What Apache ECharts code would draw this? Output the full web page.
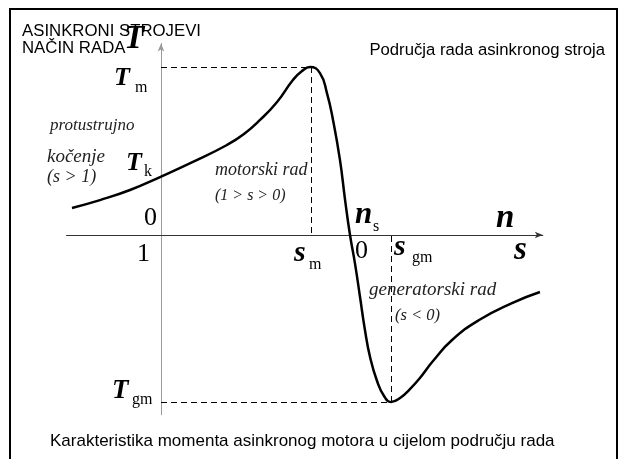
<!DOCTYPE html>
<html>
<head>
<meta charset="utf-8">
<script src="https://cdn.jsdelivr.net/npm/echarts@6/dist/echarts.min.js"></script>
<style>
    html, body { margin: 0; padding: 0; background: #fff; }
    #chart { width: 624px; height: 459px; }
</style>
</head>
<body>
<div id="chart"></div>
<script>
// brzina n/ns (0 = mirovanje, 1 = sinkrona brzina) i moment T/Tm
const speedN = [-0.471, -0.323, -0.164, -0.005, 0.169, 0.349, 0.439, 0.524, 0.614, 0.698, 0.746,
    0.788, 0.841, 0.878, 0.910, 0.947, 0.974, 1.000, 1.026, 1.053, 1.079,
    1.106, 1.143, 1.180, 1.217, 1.265, 1.317, 1.370, 1.439, 1.540, 1.683, 1.857, 2.005];
const torqueT = [0.161, 0.208, 0.268, 0.345, 0.435, 0.536, 0.601, 0.685, 0.792, 0.923, 0.976,
    1.000, 0.964, 0.845, 0.685, 0.446, 0.208, 0.000, -0.167, -0.369, -0.565,
    -0.726, -0.869, -0.958, -0.994, -0.970, -0.917, -0.851, -0.750, -0.625, -0.506, -0.405, -0.339];

// prekretni moment u motorskom i generatorskom radu
const motorPeak = [0.794, 1.0];
const generatorPeak = [1.217, -0.994];

const SERIF = '"Liberation Serif", "DejaVu Serif", serif';
const SANS = '"Liberation Sans", Arial, sans-serif';

// tekst na zadanoj poziciji
var txt = (x, y, text, size, opts = {}) => {
    return {
        type: 'text',
        x: x,
        y: y,
        silent: true,
        z: 10,
        style: {
            text: text,
            fill: opts.color || '#000',
            font: (opts.style || 'normal') + ' ' + (opts.weight || 'normal') + ' ' + size + 'px ' + (opts.family || SERIF),
            align: opts.align || 'left',
            verticalAlign: 'middle'
        }
    };
};

const symbol = { style: 'italic', weight: 'bold' };
const note = { style: 'italic', color: '#222' };
const sans = { family: SANS };

var dashed = (a, b) => [{ coord: a }, { coord: b }];

var chart = echarts.init(document.getElementById('chart'));

chart.setOption({
    animation: false,
    grid: { left: 66.5, right: 81.2, top: 43.5, bottom: 44.2, containLabel: false },
    xAxis: {
        type: 'value',
        min: -0.5,
        max: 2.02,
        axisLine: {
            onZero: true,
            symbol: ['none', 'arrow'],
            symbolSize: [5, 8],
            lineStyle: { color: '#333', width: 1 }
        },
        axisTick: { show: false },
        axisLabel: { show: false },
        splitLine: { show: false }
    },
    yAxis: {
        type: 'value',
        min: -1.07,
        max: 1.14,
        axisLine: {
            onZero: true,
            symbol: ['none', 'arrow'],
            symbolSize: [5, 8],
            lineStyle: { color: '#999', width: 1 }
        },
        axisTick: { show: false },
        axisLabel: { show: false },
        splitLine: { show: false }
    },
    series: [{
        type: 'line',
        data: speedN.map((n, i) => [n, torqueT[i]]),
        smooth: 0.5,
        showSymbol: false,
        lineStyle: { color: '#000', width: 2.5 },
        z: 5,
        markLine: {
            silent: true,
            symbol: ['none', 'none'],
            label: { show: false },
            lineStyle: { color: '#000', width: 1, type: [6, 4] },
            data: [
                dashed([0, motorPeak[1]], motorPeak),
                dashed(motorPeak, [motorPeak[0], 0]),
                dashed([0, generatorPeak[1]], generatorPeak),
                dashed(generatorPeak, [generatorPeak[0], 0])
            ]
        }
    }],
    graphic: [
        {
            type: 'rect',
            silent: true,
            shape: { x: 10, y: 9, width: 607, height: 462 },
            style: { fill: 'none', stroke: '#000', lineWidth: 2 }
        },
        txt(22, 31.5, 'ASINKRONI STROJEVI', 16.8, sans),
        txt(22, 48.5, 'NAČIN RADA', 16.8, sans),
        txt(605, 50, 'Područja rada asinkronog stroja', 16.7, { family: SANS, align: 'right' }),
        txt(50, 441.5, 'Karakteristika momenta asinkronog motora u cijelom području rada', 17, sans),

        txt(124, 39, 'T', 33, symbol),
        txt(114, 78, 'T', 26, symbol),
        txt(135, 87.5, 'm', 16),
        txt(126, 163, 'T', 26, symbol),
        txt(144, 171.5, 'k', 16),
        txt(112, 391, 'T', 27, symbol),
        txt(132, 399.5, 'gm', 16),

        txt(157, 218, '0', 26, { align: 'right' }),
        txt(150, 254, '1', 26, { align: 'right' }),
        txt(294, 253, 's', 30, symbol),
        txt(309, 264.5, 'm', 16),
        txt(355, 215, 'n', 31, symbol),
        txt(373, 226.5, 's', 16),
        txt(355, 251, '0', 26),
        txt(394, 247.5, 's', 30, symbol),
        txt(412, 257.5, 'gm', 16),
        txt(496, 218, 'n', 33, symbol),
        txt(514, 250, 's', 33, symbol),

        txt(50, 125.5, 'protustrujno', 17, note),
        txt(47, 156.5, 'kočenje', 19, note),
        txt(47, 177.5, '(s > 1)', 18, note),
        txt(215, 170.5, 'motorski rad', 18, note),
        txt(215, 195.5, '(1 > s > 0)', 16, note),
        txt(369, 289.5, 'generatorski rad', 19, note),
        txt(395, 315.5, '(s < 0)', 16.5, note)
    ]
});
</script>
</body>
</html>
